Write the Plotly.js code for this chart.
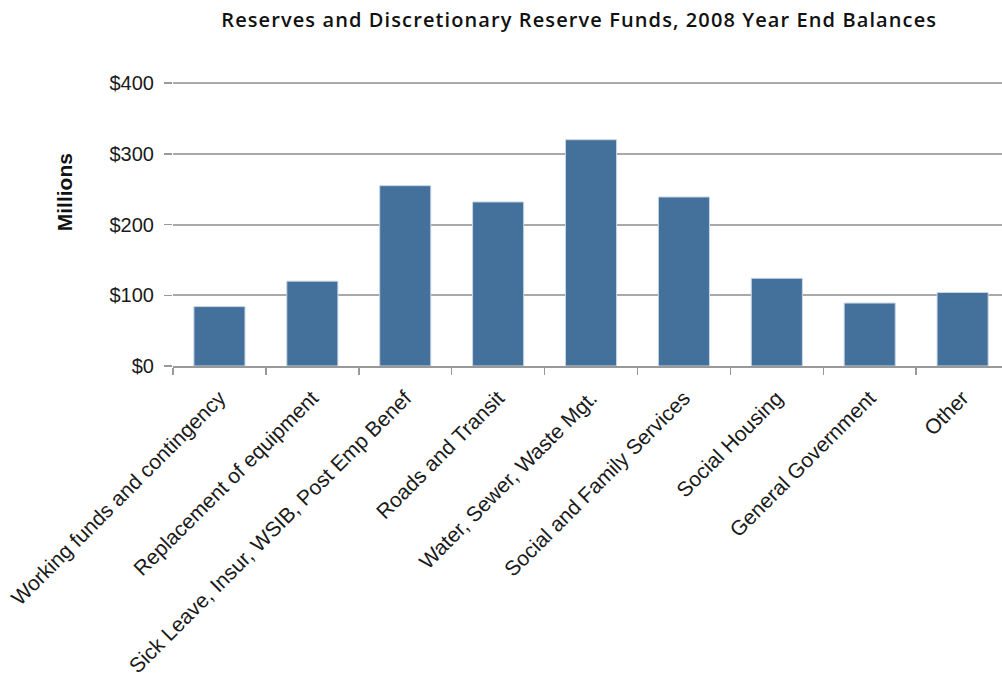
<!DOCTYPE html>
<html>
<head>
<meta charset="utf-8">
<script src="https://cdn.plot.ly/plotly-3.0.1.min.js"></script>
<style>
  html, body { margin: 0; padding: 0; overflow: hidden; background: #fff; }
  #chart { width: 1002px; height: 679px; }
  #chart .gtitle { letter-spacing: 1.1px; }
</style>
</head>
<body>
<div id="chart"></div>
<script>
const categories = [
  "Working funds and contingency",
  "Replacement of equipment",
  "Sick Leave, Insur, WSIB, Post Emp Benef",
  "Roads and Transit",
  "Water, Sewer, Waste Mgt.",
  "Social and Family Services",
  "Social Housing",
  "General Government",
  "Other"
];
const balances = [84, 120, 255, 232, 320, 239, 124, 89, 104];
const yTickValues = [0, 100, 200, 300, 400];
const yTickLabels = ["$0", "$100", "$200", "$300", "$400"];

const trace = {
  type: "bar",
  x: categories,
  y: balances,
  marker: { color: "#44719c", line: { color: "#c9d6e4", width: 1 } },
  hoverinfo: "x+y"
};

const layout = {
  width: 1002,
  height: 679,
  margin: { l: 173, r: 0, t: 81, b: 313, pad: 0 },
  paper_bgcolor: "#ffffff",
  plot_bgcolor: "#ffffff",
  showlegend: false,
  bargap: 0.45,
  title: {
    text: "Reserves and Discretionary Reserve Funds, 2008 Year End Balances",
    font: { family: "'Open Sans', Lato, sans-serif", size: 20, weight: 600, color: "#111" },
    x: 0.49, xanchor: "center", xref: "paper",
    y: 0.971, yanchor: "middle", yref: "container"
  },
  xaxis: {
    type: "category",
    range: [-0.5, 8.424],
    tickangle: -45,
    tickson: "boundaries",
    ticks: "outside",
    ticklen: 7,
    tickwidth: 1.5,
    tickcolor: "#999",
    ticklabelstandoff: 10,
    showline: true,
    linecolor: "#999",
    linewidth: 1.5,
    showgrid: false,
    zeroline: false,
    tickfont: { family: "'Liberation Sans', Arial, sans-serif", size: 21, color: "#1a1a1a" },
    automargin: false
  },
  yaxis: {
    range: [0, 403],
    tickvals: yTickValues,
    ticktext: yTickLabels,
    ticks: "outside",
    ticklen: 8,
    tickwidth: 1.5,
    tickcolor: "#999",
    ticklabelstandoff: 6,
    showline: false,
    showgrid: true,
    gridcolor: "#a9a9a9",
    gridwidth: 2,
    zeroline: false,
    tickfont: { family: "'Liberation Sans', Arial, sans-serif", size: 20, color: "#1a1a1a" },
    automargin: false
  },
  annotations: [{
    text: "<b>Millions</b>",
    xref: "paper", yref: "paper",
    x: -0.131, y: 0.611,
    xanchor: "center", yanchor: "middle",
    textangle: -90,
    showarrow: false,
    font: { family: "'Liberation Sans', Arial, sans-serif", size: 21, color: "#111" }
  }]
};

Plotly.newPlot("chart", [trace], layout, { displayModeBar: false, staticPlot: true });
</script>
</body>
</html>
